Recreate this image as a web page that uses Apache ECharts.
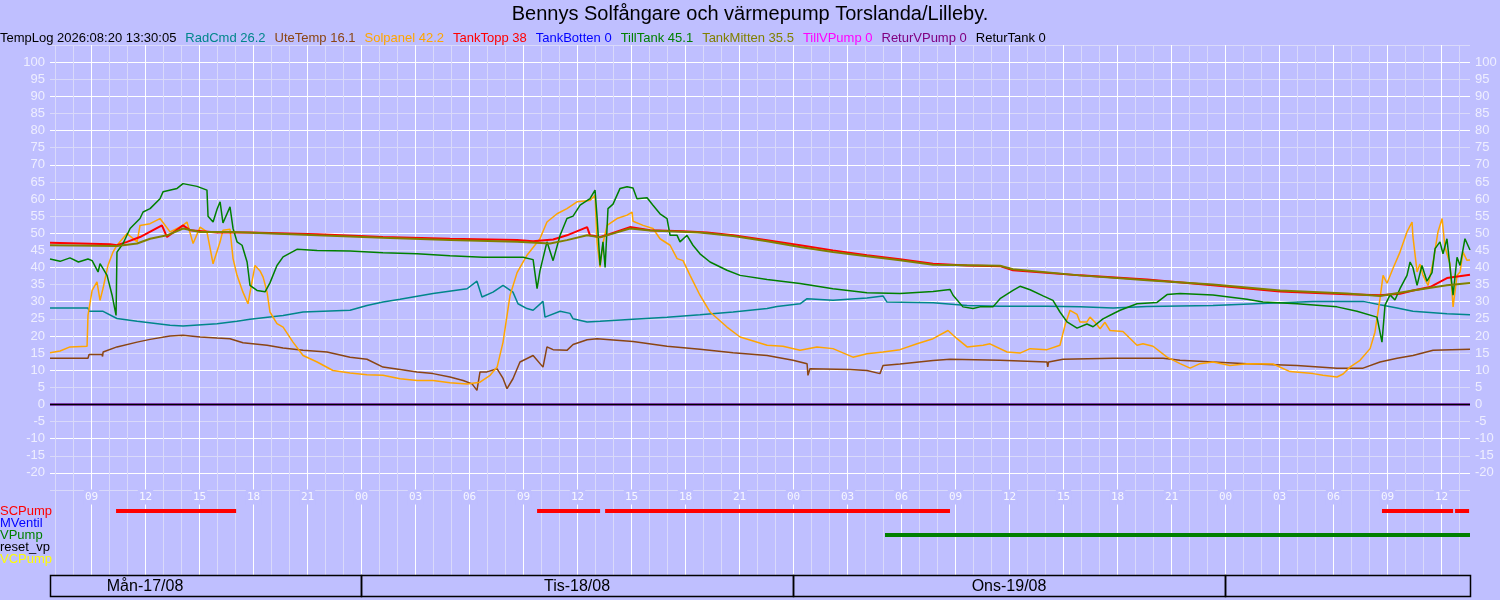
<!DOCTYPE html>
<html><head><meta charset="utf-8">
<script src="https://cdn.jsdelivr.net/npm/echarts@6/dist/echarts.min.js"></script>
<style>html,body{margin:0;padding:0;background:#bfbfff}#c{width:1500px;height:600px}</style>
</head><body><div id="c"></div>
<script>
// ---------- texts ----------
const chartTitle = 'Bennys Solfångare och värmepump Torslanda/Lilleby.';
const logStamp = 'TempLog 2026:08:20 13:30:05';
const legendNames  = ['RadCmd','UteTemp','Solpanel','TankTopp','TankBotten','TillTank','TankMitten','TillVPump','ReturVPump','ReturTank'];
const legendValues = ['26.2','16.1','42.2','38','0','45.1','35.5','0','0','0'];
const legendColors = ['#00868b','#8b4513','#ffa500','#ff0000','#0000ff','#008000','#808000','#ff00ff','#800080','#000000'];
const laneNames  = ['SCPump','MVentil','VPump','reset_vp','VCPump'];
const laneColors = ['#ff0000','#0000ff','#008000','#000000','#ffff00'];
const dayLabels = ['Mån-17/08','Tis-18/08','Ons-19/08',''];
const dayStarts = [0,24,48,72];           // hours from Mon 17/08 00:00
const timeStart = 6.72, timeEnd = 85.61;  // visible time window (hours)

// ---------- series values: [hour, value] ----------
const radCmd = [[6.72,28.2],[8.83,28.2],[8.89,27.2],[9.67,27.2],[10.44,25.1],[11.56,24.3],[13.39,23.1],[14.11,22.9],[16.0,23.6],[17.11,24.3],[17.83,24.9],[19.67,26.0],[20.78,27.0],[23.39,27.5],[24.33,28.9],[25.22,29.9],[26.17,30.7],[28.0,32.4],[29.89,33.8],[30.44,36.0],[30.72,31.4],[31.33,32.8],[31.89,34.8],[32.44,32.8],[32.72,29.4],[33.22,28.0],[33.56,27.5],[34.11,30.1],[34.22,25.5],[35.06,27.2],[35.61,26.6],[35.78,25.0],[36.56,24.1],[37.28,24.3],[39.11,24.9],[41.0,25.5],[42.83,26.2],[44.67,27.0],[46.56,28.0],[47.11,28.6],[48.39,29.4],[48.78,30.9],[50.22,30.4],[52.11,31.1],[53.0,31.7],[53.22,29.9],[55.78,29.7],[57.67,28.9],[59.5,28.7],[62.11,28.7],[63.94,28.5],[65.78,28.2],[67.67,28.6],[71.33,28.9],[75.06,29.7],[76.89,30.1],[79.67,30.1],[80.61,29.1],[81.56,28.2],[82.44,27.2],[84.33,26.5],[85.61,26.2]];
const uteTemp = [[6.72,13.5],[8.83,13.5],[8.89,14.6],[9.61,14.6],[9.64,14.0],[9.67,15.3],[10.44,16.8],[11.56,18.2],[12.28,19.0],[13.39,20.0],[14.11,20.2],[15.06,19.7],[16.0,19.4],[16.72,19.2],[17.44,18.0],[18.78,17.3],[19.67,16.5],[20.78,15.8],[22.11,15.3],[23.39,13.8],[24.33,13.2],[25.22,10.9],[26.17,10.2],[27.11,9.5],[28.0,9.0],[28.94,8.0],[29.67,7.0],[30.17,6.0],[30.44,4.1],[30.61,9.5],[31.0,9.5],[31.56,10.4],[31.89,7.6],[32.11,4.6],[32.44,7.5],[32.83,12.4],[33.56,14.3],[34.11,10.9],[34.33,16.8],[34.67,16.0],[35.44,15.8],[35.78,17.5],[36.56,18.9],[37.11,19.2],[39.11,18.4],[41.0,17.0],[42.83,16.1],[44.67,15.1],[46.56,14.3],[48.0,12.9],[48.78,11.9],[48.83,8.5],[48.94,10.4],[51.17,10.2],[52.11,9.9],[52.83,9.0],[53.0,11.4],[53.94,11.8],[55.78,12.8],[56.72,13.2],[59.5,12.9],[62.11,12.4],[62.15,11.0],[62.2,12.4],[63.0,13.2],[65.78,13.5],[68.56,13.5],[69.5,12.9],[73.22,11.9],[76.0,11.4],[78.22,10.6],[79.67,10.6],[80.61,12.4],[81.56,13.5],[82.44,14.3],[83.56,15.8],[85.61,16.1]];
const solpanel = [[6.72,15.1],[7.28,15.6],[7.83,16.8],[8.78,17.0],[8.83,26.0],[9.06,33.3],[9.33,35.8],[9.5,30.4],[9.67,34.0],[9.94,40.6],[10.22,44.5],[10.44,46.5],[11.0,49.9],[11.56,47.5],[11.72,52.3],[12.28,52.8],[12.83,54.3],[13.39,50.4],[14.11,52.3],[14.33,53.3],[14.67,47.0],[15.06,51.8],[15.44,50.4],[15.78,41.1],[16.17,47.5],[16.33,50.9],[16.72,51.2],[16.89,42.6],[17.11,37.7],[17.44,32.8],[17.72,29.4],[17.94,35.8],[18.11,40.6],[18.39,39.0],[18.56,37.2],[18.78,32.8],[18.94,27.0],[19.33,23.6],[19.67,22.6],[20.22,18.2],[20.78,14.3],[21.56,12.4],[22.44,9.9],[23.39,9.2],[24.33,8.7],[25.22,8.5],[26.17,7.5],[27.11,7.0],[28.0,7.0],[28.94,6.3],[29.89,6.0],[30.61,6.5],[31.17,8.5],[31.56,10.9],[31.89,18.2],[32.28,31.9],[32.67,38.5],[33.22,43.6],[33.94,48.4],[34.33,53.3],[34.89,55.7],[35.44,57.2],[36.0,59.2],[36.72,59.6],[37.0,61.1],[37.11,47.5],[37.28,40.1],[37.44,47.0],[37.67,52.3],[38.22,54.3],[38.78,55.3],[39.06,56.2],[39.11,53.5],[39.67,52.3],[40.22,51.4],[40.61,48.4],[41.17,46.5],[41.56,42.6],[41.89,42.0],[42.28,37.7],[42.83,31.9],[43.39,27.0],[44.33,22.6],[45.06,19.7],[46.56,17.3],[47.44,17.0],[48.39,15.8],[49.33,16.8],[50.22,16.3],[51.33,13.8],[52.11,14.8],[53.0,15.3],[53.94,16.0],[54.89,17.7],[55.78,19.2],[56.61,21.6],[57.11,19.2],[57.67,16.8],[58.56,17.3],[58.94,17.7],[59.89,15.3],[60.61,15.0],[61.17,16.3],[62.11,16.0],[62.83,17.3],[63.11,23.1],[63.39,27.5],[63.78,26.3],[63.94,24.1],[64.33,24.1],[64.5,25.5],[64.78,24.0],[65.06,22.1],[65.33,24.0],[65.61,21.6],[66.33,21.3],[67.11,17.3],[67.44,17.7],[68.0,17.0],[68.78,13.8],[69.5,11.9],[70.06,10.6],[70.61,11.9],[71.33,12.4],[72.28,11.4],[73.22,11.9],[74.67,11.8],[75.61,9.6],[76.89,9.0],[77.44,8.5],[78.22,8.0],[78.56,8.9],[78.94,10.9],[79.5,12.9],[80.06,16.3],[80.33,21.1],[80.61,30.9],[80.78,37.7],[81.0,35.4],[81.33,39.7],[81.72,44.5],[82.11,50.4],[82.39,53.3],[82.44,49.0],[82.67,38.7],[82.83,41.0],[83.0,37.7],[83.28,34.8],[83.56,41.6],[83.83,50.4],[84.06,54.3],[84.22,46.0],[84.5,41.0],[84.67,28.5],[84.89,37.7],[85.06,38.7],[85.22,44.5],[85.44,42.1],[85.61,42.2]];
const tankTopp = [[6.72,47.2],[10.06,46.8],[10.44,46.5],[11.0,47.5],[11.72,48.9],[12.94,52.3],[13.22,48.9],[14.11,52.3],[14.5,50.9],[16.0,50.2],[17.83,50.2],[21.56,49.7],[25.22,48.9],[28.94,48.4],[32.67,48.0],[33.56,47.7],[34.67,48.2],[35.44,49.4],[36.56,51.8],[36.72,49.4],[37.28,48.9],[37.83,49.8],[38.94,51.8],[40.06,50.9],[41.89,50.6],[43.22,50.2],[44.67,49.4],[46.56,48.0],[48.39,46.5],[50.22,45.0],[52.11,43.6],[53.94,42.4],[55.78,41.1],[57.67,40.6],[59.5,40.4],[60.22,39.2],[63.94,37.7],[67.67,36.5],[71.33,34.8],[75.06,33.0],[78.78,32.2],[80.61,31.9],[81.72,32.3],[82.44,33.3],[83.39,34.3],[84.33,36.9],[85.61,37.9]];
const tankBotten = [[6.72,0],[85.61,0]];
const tillTank = [[6.72,42.5],[7.28,41.8],[7.83,42.8],[8.3,41.6],[8.83,42.5],[9.06,42.0],[9.39,38.7],[9.5,41.1],[9.89,37.7],[10.17,31.9],[10.39,26.0],[10.44,44.5],[10.78,47.0],[11.17,51.4],[11.72,54.3],[11.89,56.2],[12.28,57.2],[12.83,60.1],[13.0,62.1],[13.78,63.1],[14.11,64.5],[14.89,63.7],[15.44,62.6],[15.5,55.0],[15.78,53.3],[16.0,57.0],[16.17,59.2],[16.33,53.0],[16.72,57.7],[16.89,51.4],[17.11,47.5],[17.39,46.5],[17.67,41.6],[17.83,34.8],[18.22,33.3],[18.67,32.9],[18.94,35.5],[19.33,40.6],[19.67,43.1],[20.44,45.3],[21.56,45.0],[23.39,44.8],[25.22,44.3],[27.11,44.0],[28.94,43.4],[30.78,43.0],[33.0,43.0],[33.56,42.3],[33.78,33.8],[33.94,39.0],[34.33,47.5],[34.67,42.0],[35.06,49.4],[35.44,54.3],[35.78,55.0],[36.17,58.2],[36.72,60.1],[37.0,62.6],[37.11,55.0],[37.28,40.6],[37.44,47.5],[37.56,40.0],[37.72,57.2],[38.0,58.5],[38.39,63.1],[38.78,63.6],[39.11,63.2],[39.33,60.1],[39.89,60.4],[40.22,58.2],[40.61,55.7],[41.0,54.3],[41.17,49.4],[41.56,49.4],[41.72,47.5],[42.11,49.4],[42.44,46.5],[42.83,44.0],[43.39,41.6],[44.33,39.2],[45.06,37.7],[46.56,36.5],[48.39,35.3],[50.22,33.8],[52.11,32.6],[53.94,32.4],[55.78,33.0],[56.72,33.6],[56.89,31.9],[57.44,28.5],[58.0,28.0],[58.39,28.5],[59.11,28.5],[59.5,30.9],[60.22,33.3],[60.61,34.5],[61.17,33.5],[61.89,31.7],[62.44,30.4],[62.83,27.0],[63.22,24.1],[63.78,22.3],[64.33,23.5],[64.67,22.7],[65.22,25.0],[65.78,26.5],[66.17,27.5],[67.11,29.4],[68.22,29.8],[68.78,32.1],[69.5,32.4],[71.33,32.0],[73.22,30.7],[74.11,29.9],[76.0,29.4],[78.22,28.5],[79.33,27.2],[80.44,25.5],[80.72,18.2],[80.89,29.0],[81.17,32.0],[81.44,30.5],[81.72,33.8],[82.11,37.7],[82.28,41.6],[82.44,40.0],[82.67,34.8],[82.94,40.6],[83.22,36.0],[83.5,38.5],[83.67,45.5],[83.94,47.5],[84.11,44.0],[84.33,48.4],[84.5,40.0],[84.67,31.9],[84.89,43.0],[85.06,40.6],[85.33,48.4],[85.61,45.1]];
const tankMitten = [[6.72,46.5],[10.44,46.3],[11.56,47.0],[12.28,48.4],[13.22,49.4],[14.11,51.4],[15.06,50.4],[16.89,50.4],[21.56,49.4],[25.22,48.7],[28.94,48.0],[32.67,47.5],[34.5,47.0],[35.44,48.0],[36.56,49.4],[37.28,48.8],[38.94,51.4],[40.06,50.8],[42.83,50.2],[44.67,49.2],[46.56,47.7],[48.39,46.0],[50.22,44.5],[52.11,43.3],[53.94,42.1],[55.78,40.8],[59.5,40.5],[60.22,39.5],[63.94,37.7],[67.67,36.3],[71.33,35.0],[75.06,33.3],[78.78,32.4],[80.61,31.7],[82.44,33.3],[84.33,34.8],[85.61,35.5]];
const tillVPump = [[6.72,0],[85.61,0]];
const returVPump = [[6.72,0],[85.61,0]];
const returTank = [[6.72,0],[85.61,0]];

// ---------- on/off lanes: [startHour, endHour] ----------
const scPumpOn = [[10.39,17.06],[33.78,37.28],[37.56,56.72],[80.72,84.67],[84.78,85.56]];
const mVentilOn = [];
const vPumpOn = [[53.11,85.61]];
const resetVpOn = [];
const vcPumpOn = [];

// ---------- build ----------
const BG = '#bfbfff', MINOR = '#d9d9fa', MAJOR = '#ffffff', LBL = '#eeeeff';
const FONT = '"Liberation Sans", Arial, sans-serif';
const lineData = [radCmd, uteTemp, solpanel, tankTopp, tankBotten, tillTank, tankMitten, tillVPump, returVPump, returTank];
const lineWidths = [1.5,1.5,1.5,2,1.5,1.5,2,1.5,1.5,1.5];

const rich = { t: { color: '#000', fontSize: 13, fontFamily: FONT }, g: { width: 9, fontSize: 13 } };
let legendText = '{t|' + logStamp + '}';
legendNames.forEach((n, i) => {
  rich['s' + i] = { color: legendColors[i], fontSize: 13, fontFamily: FONT };
  legendText += '{g| }{s' + i + '|' + n + ' ' + legendValues[i] + '}';
});

const hourMarks = [];
for (let h = Math.ceil(timeStart); h <= Math.floor(timeEnd); h++) hourMarks.push([h, 0]);

const laneBars = [];
[scPumpOn, mVentilOn, vPumpOn, resetVpOn, vcPumpOn].forEach((segs, li) => segs.forEach(s => laneBars.push([s[0], s[1], li])));

const gridBox = { left: 50, right: 30, outerBoundsMode: 'none', containLabel: false };
const xAxisFor = gi => ({ type: 'value', gridIndex: gi, min: timeStart, max: timeEnd, show: false });

const yLabel = {
  color: LBL, fontSize: 13, fontFamily: FONT,
  formatter: v => (v < -20 || v > 100) ? '' : String(v)
};

const option = {
  backgroundColor: BG,
  animation: false,
  textStyle: { fontFamily: FONT },
  title: [
    { text: chartTitle, left: 'center', top: 4, padding: 0, textStyle: { fontSize: 20, fontWeight: 'normal', color: '#000', fontFamily: FONT } },
    { text: legendText, left: 0, top: 32, padding: 0, textStyle: { fontSize: 13, fontWeight: 'normal', color: '#000', fontFamily: FONT, rich: rich } }
  ],
  grid: [
    Object.assign({ top: 45, height: 445 }, gridBox),
    Object.assign({ top: 505, height: 60 }, gridBox),
    Object.assign({ top: 575, height: 21 }, gridBox),
    Object.assign({ top: 45, height: 530 }, gridBox)
  ],
  xAxis: [xAxisFor(0), xAxisFor(1), xAxisFor(2), xAxisFor(3)],
  yAxis: [
    { type: 'value', gridIndex: 0, min: -25, max: 105, interval: 5, position: 'left',
      axisLine: { show: false }, axisTick: { show: false },
      axisLabel: Object.assign({ margin: 5 }, yLabel),
      splitLine: { show: true, lineStyle: { color: [MINOR, MAJOR], width: 1 } } },
    { type: 'value', gridIndex: 0, min: -25, max: 105, interval: 5, position: 'right',
      axisLine: { show: false }, axisTick: { show: false },
      axisLabel: Object.assign({ margin: 5 }, yLabel),
      splitLine: { show: false } },
    { type: 'category', gridIndex: 1, data: laneNames, inverse: true,
      axisLine: { show: false }, axisTick: { show: false }, splitLine: { show: false },
      axisLabel: { interval: 0, align: 'left', margin: 50, fontSize: 13, fontFamily: FONT,
        color: (v, i) => laneColors[laneNames.indexOf(v)] } },
    { type: 'value', gridIndex: 2, min: 0, max: 1, show: false },
    { type: 'value', gridIndex: 3, min: 0, max: 1, show: false }
  ],
  series: [
    { type: 'custom', name: 'hourGrid', xAxisIndex: 3, yAxisIndex: 4, z: 1, silent: true,
      data: hourMarks, encode: { x: 0, y: 1 },
      renderItem: (params, api) => {
        const h = api.value(0);
        const top = api.coord([h, 1]), bot = api.coord([h, 0]);
        const x = Math.round(top[0]) + 0.5;
        const major = h % 3 === 0;
        const children = [{ type: 'line', shape: { x1: x, y1: top[1], x2: x, y2: bot[1] },
          style: { stroke: major ? MAJOR : MINOR, lineWidth: 1 } }];
        if (major) {
          children.push({ type: 'text', x: x, y: bot[1] - 78, z2: 10,
            style: { text: String(h % 24).padStart(2, '0'), fill: '#f6f6ff',
              font: '11px "DejaVu Sans Mono", monospace', align: 'center', verticalAlign: 'middle',
              backgroundColor: BG, padding: [2, 1] } });
        }
        return { type: 'group', children: children };
      } },
    ...legendNames.map((n, i) => ({
      type: 'line', name: n, xAxisIndex: 0, yAxisIndex: 0, data: lineData[i],
      showSymbol: false, symbol: 'none', z: 2 + i * 0.01,
      lineStyle: { color: legendColors[i], width: lineWidths[i] }
    })),
    { type: 'custom', name: 'lanes', xAxisIndex: 1, yAxisIndex: 2, z: 3, silent: true,
      data: laneBars, encode: { x: [0, 1], y: 2 },
      renderItem: (params, api) => {
        const li = api.value(2);
        const a = api.coord([api.value(0), li]), b = api.coord([api.value(1), li]);
        return { type: 'rect', shape: { x: a[0], y: a[1] - 2, width: b[0] - a[0], height: 4 },
          style: { fill: laneColors[li] } };
      } },
    { type: 'custom', name: 'days', xAxisIndex: 2, yAxisIndex: 3, z: 3, silent: true,
      data: dayStarts.map((s, i) => [s, s + 24, i]), encode: { x: [0, 1] },
      renderItem: (params, api) => {
        const s0 = api.value(0), i = api.value(2);
        const s = Math.max(s0, timeStart), e = Math.min(api.value(1), timeEnd);
        if (e <= s) return null;
        const p1 = api.coord([s, 1]), p2 = api.coord([e, 0]);
        const children = [{ type: 'rect',
          shape: { x: Math.round(p1[0]) + 0.5, y: Math.round(p1[1]) + 0.5, width: Math.round(p2[0] - p1[0]), height: Math.round(p2[1] - p1[1]) },
          style: { fill: 'none', stroke: '#000', lineWidth: 1.5 } }];
        const noon = s0 + 12;
        if (dayLabels[i] && noon >= timeStart && noon <= timeEnd) {
          const pn = api.coord([noon, 0.5]);
          children.push({ type: 'text', x: pn[0], y: pn[1] + 1,
            style: { text: dayLabels[i], fill: '#000', font: '16px ' + FONT, align: 'center', verticalAlign: 'middle' } });
        }
        return { type: 'group', children: children };
      } }
  ]
};

const chart = echarts.init(document.getElementById('c'), null, { renderer: 'canvas' });
chart.setOption(option);
</script>
</body></html>
